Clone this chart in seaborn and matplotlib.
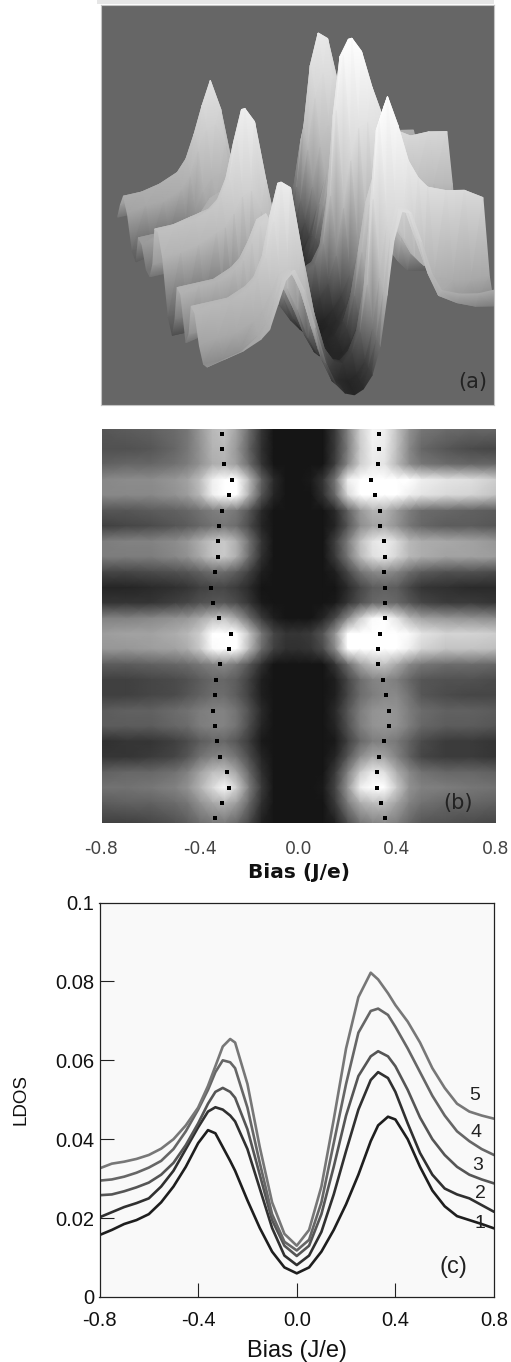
import numpy as np
import pandas as pd
import matplotlib
matplotlib.use('Agg')
import matplotlib.pyplot as plt
from matplotlib.colors import LinearSegmentedColormap, Normalize
from matplotlib.patches import Rectangle
import seaborn as sns

# panel (c) curves, LDOS x 1000
bias_c = [-0.8, -0.75, -0.7, -0.65, -0.6, -0.55, -0.5, -0.45, -0.4, -0.36, -0.33, -0.3, -0.27, -0.25,
          -0.2, -0.15, -0.1, -0.05, 0.0, 0.05, 0.1, 0.15, 0.2, 0.25, 0.3, 0.33, 0.37, 0.4, 0.45, 0.5,
          0.55, 0.6, 0.65, 0.7, 0.75, 0.8]
curve_1 = [15.7, 17, 18.5, 19.5, 21, 24, 28, 33, 39, 42.3, 41.5, 38, 34.5, 32, 24.5, 17.5, 11.5, 7.5, 6,
           7.5, 11.5, 17, 23.5, 31, 39.5, 43.5, 45.7, 45, 40, 33, 27, 23, 20.5, 19.5, 18.5, 17.4]
curve_2 = [20.2, 21.5, 22.8, 23.8, 25, 28, 32, 37.5, 43, 47, 48.1, 47.5, 46, 44.5, 37.5, 27.5, 17.5, 10.5, 8.1,
           10.5, 16.5, 26, 37, 47.5, 55, 57, 55.5, 52, 44, 36.5, 31, 27.5, 26, 25, 23.3, 21.6]
curve_3 = [25.8, 26, 26.8, 27.8, 29, 31, 34, 38.5, 44, 49, 52, 53, 52, 50.5, 42.5, 31, 19.5, 13, 10.4,
           13, 21, 33, 46, 56, 61, 62.3, 61, 58.5, 52.5, 45.5, 40, 36, 33, 31, 29.8, 28.8]
curve_4 = [29.5, 29.8, 30.5, 31.5, 32.8, 34.5, 37.5, 42, 47.5, 52.5, 57, 60, 59.5, 58, 48, 34, 21, 14, 11.8,
           14.5, 24, 39, 54, 67, 72.5, 73.1, 71.5, 68.5, 63, 57, 51, 46, 42, 39.5, 37.5, 36]
curve_5 = [32.6, 33.8, 34.3, 35, 36, 37.6, 40, 43.5, 48, 53.5, 58.5, 63.5, 65.4, 64.5, 54, 38, 24, 16, 13,
           17, 28, 45, 63, 76, 82.2, 80.5, 77, 74, 69.8, 64.5, 58, 53, 49, 47, 46, 45.2]
curve_colors = ['#1e1e1e', '#303030', '#555555', '#666666', '#777777']
curve_labels = ['1', '2', '3', '4', '5']

# panel (b) maxima positions per row
peak_left = [-0.311, -0.311, -0.302, -0.272, -0.282, -0.311, -0.321, -0.326, -0.326, -0.341, -0.356, -0.347, -0.321,
             -0.276, -0.282, -0.317, -0.336, -0.341, -0.347, -0.341, -0.332, -0.317, -0.291, -0.282, -0.311, -0.341]
peak_right = [0.326, 0.326, 0.322, 0.296, 0.311, 0.332, 0.332, 0.347, 0.352, 0.347, 0.352, 0.352, 0.352,
              0.332, 0.322, 0.322, 0.342, 0.357, 0.367, 0.367, 0.347, 0.326, 0.317, 0.317, 0.337, 0.352]

# LDOS x 1000, one row per position, used for panels (a) and (b)
bias_map = [-0.8, -0.7, -0.6, -0.5, -0.45, -0.4, -0.35, -0.3, -0.25, -0.2, -0.15, -0.1, -0.05, 0.0,
            0.05, 0.1, 0.15, 0.2, 0.25, 0.3, 0.35, 0.4, 0.45, 0.5, 0.6, 0.7, 0.8]
ldos_map = [
    [24, 25, 26, 28, 30, 36, 42, 44, 38, 28, 18, 12, 9, 8, 9, 12, 19, 32, 46, 53, 52, 44, 35, 30, 28, 27, 27],
    [23, 23, 24, 27, 30, 35, 41, 42, 36, 26, 17, 11, 9, 8, 9, 12, 19, 31, 45, 52, 51, 43, 33, 27, 24, 22, 21],
    [26, 27, 27, 29, 31, 35, 40, 41, 37, 28, 18, 12, 9, 8, 9, 12, 20, 33, 46, 51, 50, 42, 34, 30, 28, 27, 27],
    [33, 34, 34, 36, 38, 43, 52, 62, 60, 42, 26, 16, 12, 11, 13, 18, 30, 52, 72, 78, 70, 60, 55, 52, 50, 49, 46],
    [33, 33, 33, 35, 37, 42, 52, 60, 56, 40, 24, 15, 11, 10, 12, 17, 28, 48, 68, 74, 68, 58, 52, 50, 48, 47, 44],
    [24, 24, 25, 26, 27, 29, 31, 32, 30, 24, 16, 11, 9, 8, 9, 11, 16, 26, 36, 41, 41, 36, 31, 28, 27, 26, 25],
    [20, 21, 22, 24, 25, 27, 29, 30, 28, 22, 15, 10, 8, 8, 8, 10, 15, 24, 34, 38, 39, 35, 30, 27, 25, 25, 24],
    [31, 32, 32, 34, 36, 40, 44, 45, 40, 29, 18, 12, 9, 8, 9, 12, 20, 31, 43, 50, 52, 48, 42, 40, 39, 38, 36],
    [31, 31, 31, 33, 35, 39, 44, 45, 40, 28, 17, 11, 9, 8, 9, 12, 19, 30, 42, 49, 51, 47, 42, 40, 38, 38, 37],
    [21, 21, 22, 23, 24, 26, 28, 28, 25, 20, 14, 10, 8, 8, 8, 10, 14, 21, 29, 33, 34, 32, 28, 25, 23, 23, 22],
    [15, 15, 16, 17, 18, 20, 21, 21, 19, 16, 12, 9, 8, 7, 8, 9, 12, 16, 21, 25, 26, 25, 21, 18, 17, 16, 16],
    [18, 18, 18, 20, 21, 23, 24, 24, 22, 18, 13, 10, 8, 8, 8, 10, 13, 18, 23, 27, 28, 27, 24, 21, 19, 19, 18],
    [32, 32, 33, 35, 36, 39, 43, 44, 38, 28, 19, 14, 11, 11, 12, 15, 22, 34, 46, 54, 55, 50, 42, 38, 36, 35, 34],
    [37, 38, 38, 40, 42, 46, 56, 64, 60, 44, 30, 21, 18, 18, 19, 24, 36, 58, 72, 76, 72, 62, 54, 50, 47, 47, 46],
    [36, 36, 37, 38, 40, 45, 54, 62, 58, 42, 28, 20, 17, 17, 18, 22, 34, 55, 70, 74, 70, 60, 52, 47, 44, 44, 43],
    [25, 25, 26, 27, 28, 30, 32, 33, 30, 24, 17, 12, 10, 9, 10, 12, 18, 28, 38, 43, 44, 39, 33, 30, 28, 28, 27],
    [20, 20, 21, 22, 23, 25, 27, 27, 25, 20, 14, 10, 8, 8, 8, 10, 14, 21, 28, 32, 33, 31, 27, 24, 23, 23, 22],
    [20, 20, 21, 22, 24, 26, 28, 28, 25, 20, 14, 10, 8, 8, 8, 10, 14, 21, 28, 31, 33, 33, 29, 24, 22, 21, 21],
    [25, 26, 26, 28, 29, 31, 32, 32, 29, 23, 16, 11, 9, 8, 9, 11, 16, 24, 31, 35, 36, 35, 31, 28, 26, 26, 25],
    [25, 25, 25, 27, 28, 31, 32, 32, 29, 22, 15, 11, 9, 8, 9, 11, 15, 23, 31, 35, 36, 35, 31, 27, 25, 25, 24],
    [17, 18, 18, 20, 22, 25, 27, 27, 24, 19, 13, 10, 8, 7, 8, 9, 13, 20, 27, 31, 32, 30, 26, 22, 19, 19, 18],
    [18, 18, 19, 21, 24, 29, 32, 33, 29, 22, 15, 10, 8, 8, 8, 10, 15, 24, 34, 39, 38, 32, 26, 21, 19, 19, 18],
    [26, 27, 27, 29, 32, 38, 43, 44, 38, 27, 17, 11, 9, 8, 9, 12, 19, 32, 45, 51, 49, 40, 33, 29, 27, 27, 26],
    [29, 29, 30, 32, 35, 41, 48, 54, 46, 31, 19, 12, 9, 8, 9, 13, 21, 36, 52, 60, 58, 45, 35, 32, 31, 30, 29],
    [25, 26, 26, 28, 30, 35, 39, 41, 37, 27, 17, 11, 9, 8, 9, 12, 19, 31, 40, 43, 43, 38, 32, 29, 27, 27, 26],
    [20, 20, 21, 23, 25, 28, 30, 30, 27, 21, 14, 10, 8, 7, 8, 10, 14, 22, 29, 32, 33, 31, 27, 24, 23, 22, 21],
]

sns.set_theme(style='white')
plt.rcParams['font.family'] = ['Liberation Sans', 'DejaVu Sans']

W, H = 511, 1362
fig = plt.figure(figsize=(W / 100, H / 100), dpi=100, facecolor='white')


def px_axes(x0, y0, x1, y1, **kw):
    return fig.add_axes([x0 / W, 1 - y1 / H, (x1 - x0) / W, (y1 - y0) / H], **kw)


Z = np.array(ldos_map, dtype=float)
bias_arr = np.array(bias_map)
rows = np.arange(len(ldos_map), dtype=float)

# gray strip along the top edge
fig.add_artist(Rectangle((97 / W, 1 - 4 / H), 397 / W, 4 / H, transform=fig.transFigure, color='#e6e6e6', lw=0))

# (a) surface: oblique view of the table, triangles drawn back to front with smooth shading
ax_a = px_axes(101, 5, 494, 405)
ax_a.set_facecolor('#666666')
surf_cmap = LinearSegmentedColormap.from_list('surf', [(0, '#1a1a1a'), (0.12, '#4a4a4a'), (0.3, '#a8a8a8'),
                                                       (0.6, '#d8d8d8'), (1, '#ffffff')])
U, V = np.meshgrid((bias_arr + 0.8) / 1.6, rows / rows.max())
sx = 207 + 290 * U - 90 * V - 0.15 * (Z - 24)
sy = 367 - 66 * U - 165 * V - 3.8 * (Z - 24)
nr, nc = Z.shape
tris = []
for i in range(nr - 1):
    for j in range(nc - 1):
        a, b, c, d = i * nc + j, i * nc + j + 1, (i + 1) * nc + j, (i + 1) * nc + j + 1
        tris += [[a, b, d], [a, d, c]]
tris = np.array(tris)
# farthest first: camera sits in front of row 0, a little toward negative bias
near = -0.26 * U.ravel() - 0.97 * V.ravel()
tris = tris[np.argsort(near[tris].mean(axis=1))]
ax_a.tripcolor(sx.ravel(), sy.ravel(), tris, Z.ravel(), shading='gouraud', cmap=surf_cmap, norm=Normalize(6, 75))
ax_a.set_xlim(101, 494)
ax_a.set_ylim(405, 5)
ax_a.set_xticks([])
ax_a.set_yticks([])
for s in ax_a.spines.values():
    s.set_color('#c4c4c4')
    s.set_linewidth(0.8)
ax_a.text(0.945, 0.057, '(a)', transform=ax_a.transAxes, ha='center', va='center', fontsize=15,
          color='#222222', family='DejaVu Sans')

# (b) map
ax_b = px_axes(101.5, 429, 495.5, 823)
heat_cmap = LinearSegmentedColormap.from_list('heat', ['#151515', '#ffffff'])
mesh_y = rows.copy()
mesh_y[0], mesh_y[-1] = -0.3, 25.3
ax_b.pcolormesh(bias_arr, mesh_y, Z, cmap=heat_cmap, vmin=12, vmax=55, shading='gouraud', rasterized=True)
dots = pd.DataFrame({'left': peak_left, 'right': peak_right, 'row': rows})
for col in ['left', 'right']:
    sns.scatterplot(data=dots, x=col, y='row', ax=ax_b, marker='s', s=7, color='black', linewidth=0, legend=False)
ax_b.set_xlim(-0.8, 0.8)
ax_b.set_ylim(25.3, -0.3)
ax_b.set_yticks([])
ax_b.set_ylabel('')
ax_b.set_xticks([-0.8, -0.4, 0.0, 0.4, 0.8])
ax_b.set_xticklabels(['-0.8', '-0.4', '0.0', '0.4', '0.8'], fontsize=12.5, color='#444444', family='DejaVu Sans')
ax_b.tick_params(axis='x', length=0, pad=12)
ax_b.set_xlabel('Bias (J/e)', fontsize=14.5, fontweight='bold', color='#111111', family='DejaVu Sans', labelpad=4)
for s in ax_b.spines.values():
    s.set_visible(False)
ax_b.text(0.904, 0.05, '(b)', transform=ax_b.transAxes, ha='center', va='center', fontsize=15, color='#222222',
          family='DejaVu Sans')

# (c) curves
ax_c = px_axes(99.5, 902.5, 494, 1297)
ax_c.set_facecolor('#f9f9f9')
curves = pd.DataFrame({'bias': bias_c, '1': curve_1, '2': curve_2, '3': curve_3, '4': curve_4, '5': curve_5})
long_c = curves.melt(id_vars='bias', var_name='curve', value_name='ldos')
long_c['ldos'] = long_c['ldos'] / 1000
sns.lineplot(data=long_c, x='bias', y='ldos', hue='curve', palette=dict(zip(curve_labels, curve_colors)),
             linewidth=1.9, legend=False, ax=ax_c)
ax_c.set_xlim(-0.8, 0.8)
ax_c.set_ylim(0, 0.1)
ax_c.set_xticks([-0.8, -0.4, 0.0, 0.4, 0.8])
ax_c.set_xticklabels(['-0.8', '-0.4', '0.0', '0.4', '0.8'], fontsize=14.5, color='#111111')
ax_c.set_yticks([0, 0.02, 0.04, 0.06, 0.08, 0.1])
ax_c.set_yticklabels(['0', '0.02', '0.04', '0.06', '0.08', '0.1'], fontsize=14.5, color='#111111')
ax_c.tick_params(axis='both', direction='in', length=10, width=0.8, color='#222222', left=True, bottom=True)
ax_c.tick_params(axis='x', pad=10)
ax_c.tick_params(axis='y', pad=4)
# no tick marks at the corners
for tick in [ax_c.xaxis.get_major_ticks()[0], ax_c.xaxis.get_major_ticks()[-1],
             ax_c.yaxis.get_major_ticks()[0], ax_c.yaxis.get_major_ticks()[-1]]:
    tick.tick1line.set_visible(False)
ax_c.set_xlabel('Bias (J/e)', fontsize=17, color='#111111', labelpad=7)
ax_c.set_ylabel('LDOS', fontsize=13.5, color='#111111', labelpad=18)
for s in ax_c.spines.values():
    s.set_color('#222222')
    s.set_linewidth(0.9)
label_x = [0.742, 0.746, 0.735, 0.726, 0.722]
label_y = [0.0187, 0.0263, 0.0334, 0.0416, 0.0512]
for lab, lx, ly in zip(curve_labels, label_x, label_y):
    ax_c.text(lx, ly, lab, ha='center', va='center', fontsize=14, color='#222222')
ax_c.text(0.635, 0.0077, '(c)', ha='center', va='center', fontsize=17, color='#222222')

fig.savefig('out.png', dpi=100)
